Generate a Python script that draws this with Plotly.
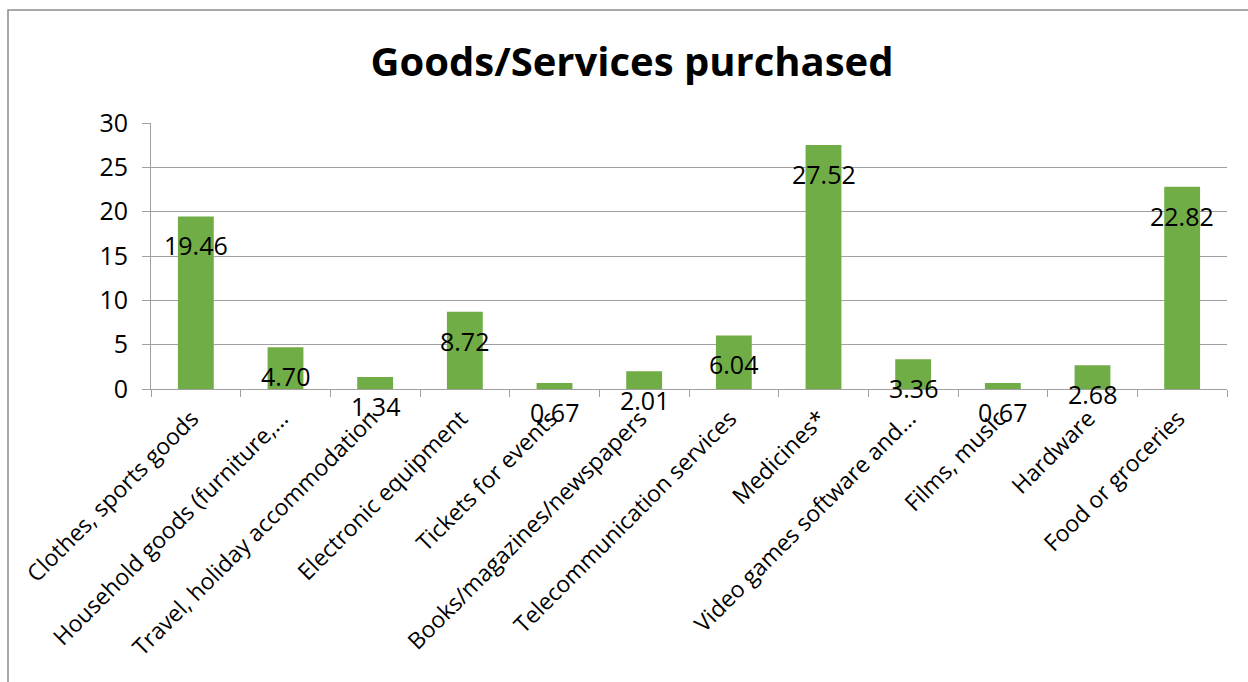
import plotly.graph_objects as go

categories = [
    "Clothes, sports goods",
    "Household goods (furniture,...",
    "Travel, holiday accommodation",
    "Electronic equipment",
    "Tickets for events",
    "Books/magazines/newspapers",
    "Telecommunication services",
    "Medicines*",
    "Video games software and...",
    "Films, music",
    "Hardware",
    "Food or groceries",
]
values = [19.46, 4.70, 1.34, 8.72, 0.67, 2.01, 6.04, 27.52, 3.36, 0.67, 2.68, 22.82]
labels = ["19.46", "4.70", "1.34", "8.72", "0.67", "2.01", "6.04", "27.52", "3.36", "0.67", "2.68", "22.82"]
title_text = "Goods/Services purchased"

FONT = "Open Sans"
GRID = "#A0A0A0"

fig = go.Figure()
fig.add_trace(go.Bar(x=categories, y=values, marker=dict(color="#70AD47", line=dict(width=0)),
                     hoverinfo="skip"))

for c, v, t in zip(categories, values, labels):
    fig.add_annotation(x=c, y=v, text=t, showarrow=False, yshift=-29, yanchor="middle",
                       xanchor="center", font=dict(family=FONT, size=25, color="#000000"))

L, R, T, B = 151, 21, 123, 293
W, H = 1248, 682
pw, ph = W - L - R, H - T - B

def px(x):
    return (x - L) / pw

def py(y):
    return (H - B - y) / ph

fig.add_shape(type="rect", xref="paper", yref="paper",
              x0=px(8), x1=px(1300), y0=py(10), y1=py(800),
              line=dict(color="#8C8C8C", width=1.5), fillcolor="rgba(0,0,0,0)", layer="below")

fig.update_layout(
    width=W, height=H,
    margin=dict(l=L, r=R, t=T, b=B, autoexpand=False),
    paper_bgcolor="white", plot_bgcolor="white",
    showlegend=False,
    bargap=0.6,
    title=dict(text="<b>" + title_text + "</b>", xref="container", yref="container",
               x=632 / W, y=1 - 62 / H, xanchor="center", yanchor="middle",
               font=dict(family=FONT, size=40, color="#000000")),
    font=dict(family=FONT, color="#000000"),
)
fig.update_yaxes(range=[0, 30], dtick=5, showgrid=True, gridcolor=GRID, gridwidth=1,
                 ticks="outside", ticklen=8, tickcolor=GRID, showline=True, linecolor=GRID,
                 linewidth=1, zeroline=False, ticklabelstandoff=9,
                 tickfont=dict(family=FONT, size=25, color="#000"), fixedrange=True)
fig.update_xaxes(tickangle=-45, ticks="outside", tickson="boundaries", ticklen=7, tickcolor=GRID,
                 showline=True, linecolor=GRID, linewidth=1, ticklabelstandoff=6,
                 ticklabelshift=-4,
                 tickfont=dict(family=FONT, size=23, color="#000"), fixedrange=True)

fig.write_html("out.html")
